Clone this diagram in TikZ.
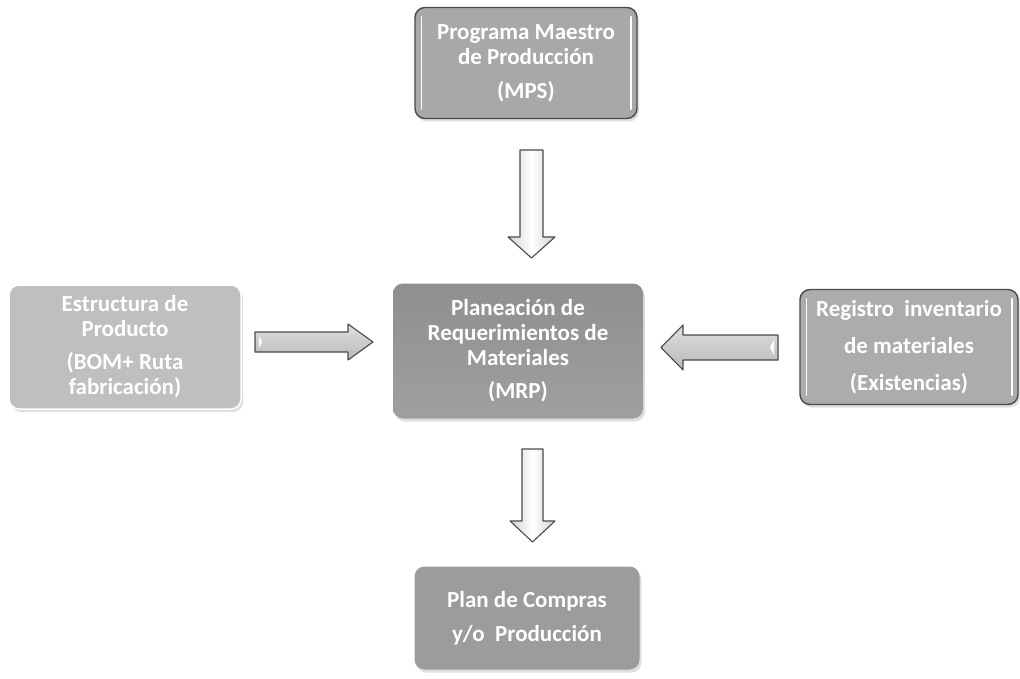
\documentclass[tikz,border=0pt]{standalone}
\usepackage{fontspec}
\setmainfont{Carlito}
\usetikzlibrary{shadows}
\definecolor{edge}{HTML}{4A4A4A}
\tikzset{
  txt/.style={text=white, font=\bfseries\fontsize{23}{25}\selectfont, align=center},
  boxbase/.style={rounded corners=10pt, txt, inner sep=0pt,
     drop shadow={shadow xshift=2pt, shadow yshift=-3pt, opacity=0.25}},
  darkbox/.style={boxbase, draw=edge, line width=1.4pt},
  lightbox/.style={boxbase, draw=white, line width=1.5pt},
  varrow/.style={draw=edge, line width=1.1pt, line join=round, left color=gray!35, right color=gray!35, middle color=white},
  harrow/.style={draw=edge, line width=1.1pt, line join=round, top color=gray!25, bottom color=gray!55, middle color=gray!40},
  glint/.style={white, line width=1.6pt, line cap=round}
}
\begin{document}
\begin{tikzpicture}[x=1pt,y=-1pt]
\useasboundingbox[fill=white] (0,0) rectangle (1020,679);

% boxes
\node[darkbox, fill=gray!68, minimum width=222pt, minimum height=111pt] (mps) at (526,63)
  {Programa Maestro\\de Producción\\[9pt](MPS)};
\node[lightbox, fill=gray!50, minimum width=232pt, minimum height=124pt] (bom) at (125,347)
  {Estructura de\\Producto\\[8pt](BOM+ Ruta\\fabricación)};
\node[darkbox, fill=gray!65, minimum width=218pt, minimum height=115pt,
      font=\bfseries\fontsize{23}{37}\selectfont] (inv) at (909,347)
  {Registro\ \ inventario\\de materiales\\(Existencias)};
\node[boxbase, top color=gray!88, bottom color=gray!75, minimum width=250pt, minimum height=135pt] (mrp) at (518,351)
  {Planeación de\\Requerimientos de\\Materiales\\[8pt](MRP)};
\node[boxbase, fill=gray!78, minimum width=225pt, minimum height=103pt,
      font=\bfseries\fontsize{23}{34}\selectfont] (plan) at (527,618)
  {Plan de Compras\\y/o\ \ Producción};

% inner highlights of framed boxes
\draw[glint] ([shift={(7pt,-10pt)}]mps.north west) -- ([shift={(7pt,10pt)}]mps.south west);
\draw[glint] ([shift={(-7pt,-10pt)}]mps.north east) -- ([shift={(-7pt,10pt)}]mps.south east);
\draw[glint] ([shift={(7pt,-10pt)}]inv.north west) -- ([shift={(7pt,10pt)}]inv.south west);
\draw[glint] ([shift={(-7pt,-10pt)}]inv.north east) -- ([shift={(-7pt,10pt)}]inv.south east);

% block arrows
\path[varrow] (520,150) -- (543,150) -- (543,237) -- (555,237) -- (531.5,258) -- (508,237) -- (520,237) -- cycle;
\draw[white, line width=2pt] (531.5,156) -- (531.5,245);
\path[varrow] (522,449) -- (543,449) -- (543,521) -- (555,521) -- (532.5,542) -- (510,521) -- (522,521) -- cycle;
\draw[white, line width=2pt] (532.5,455) -- (532.5,530);
\path[harrow] (255,332) -- (348,332) -- (348,324) -- (373,342) -- (348,360) -- (348,352) -- (255,352) -- cycle;
\fill[white] (259,336) -- (262,342) -- (259,348) -- cycle;
\path[harrow] (778,335) -- (683,335) -- (683,325) -- (661,347.5) -- (683,370) -- (683,360) -- (778,360) -- cycle;
\fill[white] (774,340) -- (770,347.5) -- (774,355) -- cycle;
\end{tikzpicture}
\end{document}
